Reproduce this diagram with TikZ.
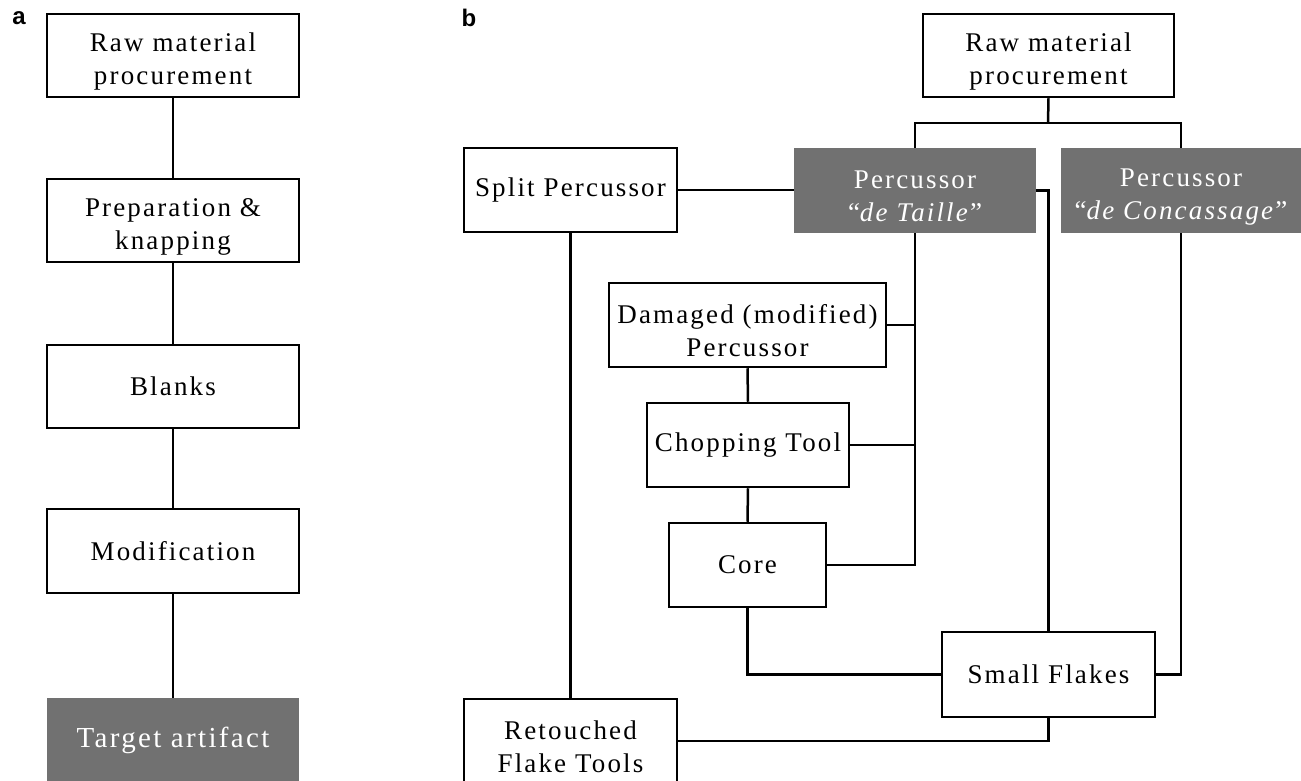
\documentclass[tikz,border=0pt]{standalone}
\usepackage{fontspec}
\setmainfont[LetterSpace=8]{Liberation Serif}
\newfontfamily\labelfont{Liberation Sans}
\definecolor{stepgray}{RGB}{113,113,113}
% extra room above the first of two lines, so the pair sits a little lower
\newcommand\toppad{\rule{0pt}{30pt}}
\begin{document}
\begin{tikzpicture}[x=1pt,y=-1pt,
  every node/.style={inner sep=0pt, align=center},
  box/.style={draw=black, line width=2.5pt, fill=white,
    font=\fontsize{27}{33}\selectfont, minimum height=84pt},
  darkbox/.style={fill=stepgray, text=white,
    font=\fontsize{27}{33}\selectfont, minimum height=85pt},
  link/.style={draw=black, line width=2.5pt},
  panel/.style={font=\labelfont\bfseries\fontsize{24}{24}\selectfont}]
\useasboundingbox (0,0) rectangle (1301,781);

% ---- panel a: linear sequence ----
\node[panel] (la) at (19,18) {a};
\node[box, minimum width=252pt, minimum height=83pt] (rawA) at (173,55.5) {\toppad Raw material\\procurement};
\node[box, minimum width=252pt, minimum height=83pt] (prepA) at (173,220.5) {\toppad Preparation \&\\knapping};
\node[box, minimum width=252pt, minimum height=83pt] (blankA) at (173,386.5) {Blanks};
\node[box, minimum width=252pt] (modA) at (173,551) {Modification};
\node[darkbox, minimum width=252pt, minimum height=84pt,
      font=\fontsize{29}{33}\selectfont] (targetA) at (173,740) {Target artifact};

\draw[link] (rawA.south) -- (prepA.north);
\draw[link] (prepA.south) -- (blankA.north);
\draw[link] (blankA.south) -- (modA.north);
\draw[link] (modA.south) -- (targetA.north);

% ---- panel b: branching operational chain ----
\node[panel] (lb) at (469,18) {b};
\node[box, minimum width=251pt, minimum height=83pt] (rawB) at (1048.5,55.5) {\toppad Raw material\\procurement};
\node[darkbox, minimum width=242pt] (taille) at (915,190.5) {\toppad Percussor\\“\textit{de Taille}”};
\node[darkbox, minimum width=240pt] (conc) at (1181,190.5) {\toppad Percussor\\“\textit{de Concassage}”};
\node[box, minimum width=213pt] (split) at (570.5,190) {Split Percussor};
\node[box, minimum width=277pt] (damaged) at (747.5,325) {\toppad Damaged (modified)\\Percussor};
\node[box, minimum width=202pt] (chop) at (748,445) {Chopping Tool};
\node[box, minimum width=157pt] (core) at (747.5,565) {Core};
\node[box, minimum width=213pt, minimum height=85pt] (small) at (1048.5,674.5) {Small Flakes};
\node[box, minimum width=213pt, minimum height=84pt] (retouch) at (570.5,741) {\toppad Retouched\\Flake Tools};

\coordinate (fork) at (1048,123);
\draw[link] (rawB.south) -- (fork);
\draw[link] (taille.north) |- (fork) -| (conc.north);
\draw[link] (split.east) -- (split.east -| taille.west);
\draw[link] (taille.east) -| (small.north);
\draw[link] (taille.south) |- (core.east);
\draw[link] (damaged.east) -- (damaged.east -| taille.south);
\draw[link] (chop.east) -- (chop.east -| taille.south);
\draw[link] (damaged.south) -- (chop.north);
\draw[link] (chop.south) -- (core.north);
\draw[link] (core.south) |- (small.west);
\draw[link] (conc.south) |- (small.east);
\draw[link] (split.south) -- (retouch.north);
\draw[link] (small.south) |- (retouch.east);
\end{tikzpicture}
\end{document}
